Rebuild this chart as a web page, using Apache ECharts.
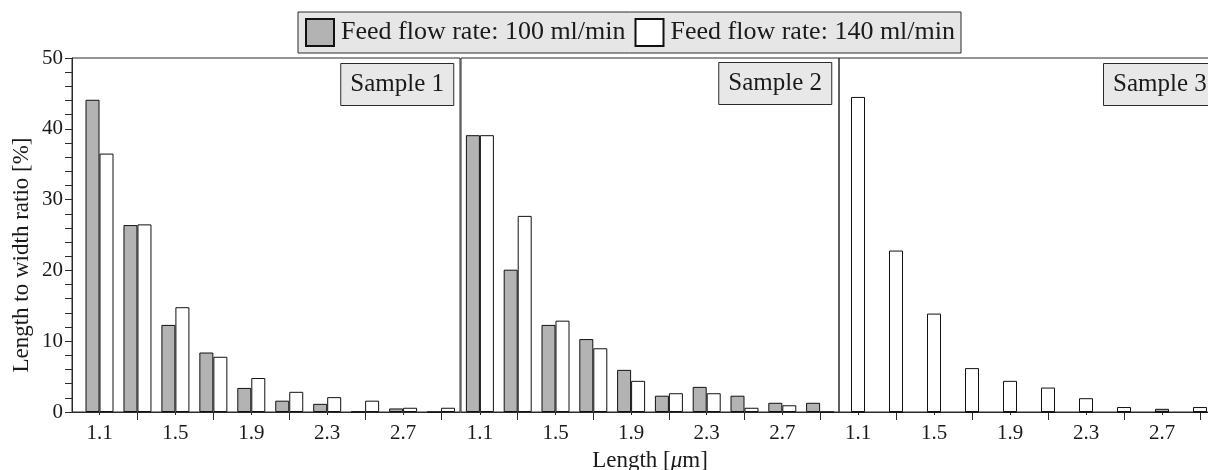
<!DOCTYPE html>
<html>
<head>
<meta charset="utf-8">
<script src="https://cdn.jsdelivr.net/npm/echarts@6/dist/echarts.min.js"></script>
<style>html,body{margin:0;padding:0;background:#fff}#c{width:1208px;height:470px}</style>
</head>
<body>
<div id="c"></div>
<script>
// ---- data ----
const lengths = [1.1, 1.3, 1.5, 1.7, 1.9, 2.1, 2.3, 2.5, 2.7, 2.9];
const sample1_100 = [44.1, 26.4, 12.3, 8.4, 3.4, 1.6, 1.15, 0.05, 0.5, 0];
const sample1_140 = [36.5, 26.5, 14.8, 7.8, 4.8, 2.85, 2.1, 1.6, 0.6, 0.6];
const sample2_100 = [39.1, 20.1, 12.3, 10.3, 5.95, 2.3, 3.55, 2.3, 1.3, 1.3];
const sample2_140 = [39.1, 27.7, 12.9, 9.0, 4.4, 2.65, 2.65, 0.6, 0.95, 0];
const sample3_100 = [0, 0, 0, 0, 0, 0, 0, 0, 0.45, 0];
const sample3_140 = [44.5, 22.8, 13.9, 6.2, 4.4, 3.45, 1.95, 0.7, 0, 0.7];
const xLabelValues = [1.1, 1.5, 1.9, 2.3, 2.7];
const xMajorTickValues = [1.3, 1.7, 2.1, 2.5, 2.9];
const sampleNames = ['Sample 1', 'Sample 2', 'Sample 3'];
const seriesNames = ['Feed flow rate: 100 ml/min', 'Feed flow rate: 140 ml/min'];

const FONT = 'Liberation Serif';
const TXT = '#1a1a1a';
const LINE = '#2a2a2a';

const panels = [
  {left: 72, width: 388, min: 0.955, max: 3.0, d100: sample1_100, d140: sample1_140, gap: '0%'},
  {left: 461, width: 378, min: 1.0, max: 3.0, d100: sample2_100, d140: sample2_140, gap: '0%'},
  {left: 839, width: 380, min: 1.0, max: 3.0, d100: sample3_100, d140: sample3_140, gap: '-100%'}
];

const grid = [], xAxis = [], yAxis = [], series = [];
panels.forEach((p, k) => {
  grid.push({left: p.left, top: 58, width: p.width, height: 354, show: true,
    outerBoundsMode: 'none', containLabel: false,
    borderColor: LINE, borderWidth: 1, backgroundColor: 'transparent'});
  xAxis.push({
    type: 'value', gridIndex: k, min: p.min, max: p.max, position: 'bottom',
    splitLine: {show: false},
    axisLine: {show: true, onZero: false, lineStyle: {color: LINE, width: 1}},
    axisTick: {show: true, customValues: xMajorTickValues, length: 8, lineStyle: {color: LINE}},
    axisLabel: {show: true, customValues: xLabelValues, margin: 11,
      fontFamily: FONT, fontSize: 21, color: TXT,
      formatter: v => v.toFixed(1)},
    name: k === 1 ? 'Length [{i|μ}m]' : '',
    nameLocation: 'middle', nameGap: 37,
    nameTextStyle: {fontFamily: FONT, fontSize: 23, color: TXT,
      rich: {i: {fontFamily: FONT, fontSize: 23, fontStyle: 'italic', color: TXT}}}
  });
  xAxis.push({
    type: 'value', gridIndex: k, min: p.min, max: p.max, position: 'bottom',
    splitLine: {show: false},
    axisLine: {show: false, onZero: false},
    axisTick: {show: true, customValues: xLabelValues, length: 3, lineStyle: {color: LINE}},
    axisLabel: {show: false}
  });
  yAxis.push({
    type: 'value', gridIndex: k, min: 0, max: 50, interval: 10,
    splitLine: {show: false},
    axisLine: {show: k === 0, lineStyle: {color: LINE}},
    axisTick: {show: k === 0, length: 7, lineStyle: {color: LINE}},
    minorTick: {show: k === 0, splitNumber: 5, length: 7, lineStyle: {color: LINE}},
    axisLabel: {show: k === 0, margin: 9, fontFamily: FONT, fontSize: 21, color: TXT},
    name: k === 0 ? 'Length to width ratio [%]' : '',
    nameLocation: 'middle', nameGap: 39,
    nameTextStyle: {fontFamily: FONT, fontSize: 23, color: TXT, padding: [0, 40, 0, 0]}
  });
  series.push({
    type: 'bar', name: seriesNames[0], xAxisIndex: 2 * k, yAxisIndex: k,
    data: lengths.map((x, i) => [x, p.d100[i]]),
    barWidth: 14, barGap: p.gap,
    itemStyle: {color: '#b3b3b3', borderColor: '#111', borderWidth: 1}
  });
  series.push({
    type: 'bar', name: seriesNames[1], xAxisIndex: 2 * k, yAxisIndex: k,
    data: lengths.map((x, i) => [x, p.d140[i]]),
    barWidth: 14, barGap: p.gap,
    itemStyle: {color: '#ffffff', borderColor: '#111', borderWidth: 1}
  });
});

const titleBox = {backgroundColor: '#e8e8e8', borderColor: LINE, borderWidth: 1,
  padding: [9, 10, 9, 10],
  textStyle: {fontFamily: FONT, fontSize: 25, fontWeight: 'normal', color: TXT}};
const title = [
  Object.assign({text: sampleNames[0], right: 754, top: 63}, titleBox),
  Object.assign({text: sampleNames[1], right: 376, top: 62}, titleBox),
  Object.assign({text: sampleNames[2], left: 1103, top: 63}, titleBox)
];

const chart = echarts.init(document.getElementById('c'), null, {renderer: 'canvas'});
chart.setOption({
  animation: false,
  backgroundColor: '#ffffff',
  title,
  legend: {
    data: seriesNames, left: 298, top: 12,
    icon: 'rect', itemWidth: 28, itemHeight: 27, itemGap: 9,
    backgroundColor: '#e6e6e6', borderColor: LINE, borderWidth: 1,
    padding: [6, 6, 6, 7],
    textStyle: {fontFamily: FONT, fontSize: 26, color: TXT, padding: [0, 0, 0, 2]}
  },
  grid, xAxis, yAxis, series
});
</script>
</body>
</html>
